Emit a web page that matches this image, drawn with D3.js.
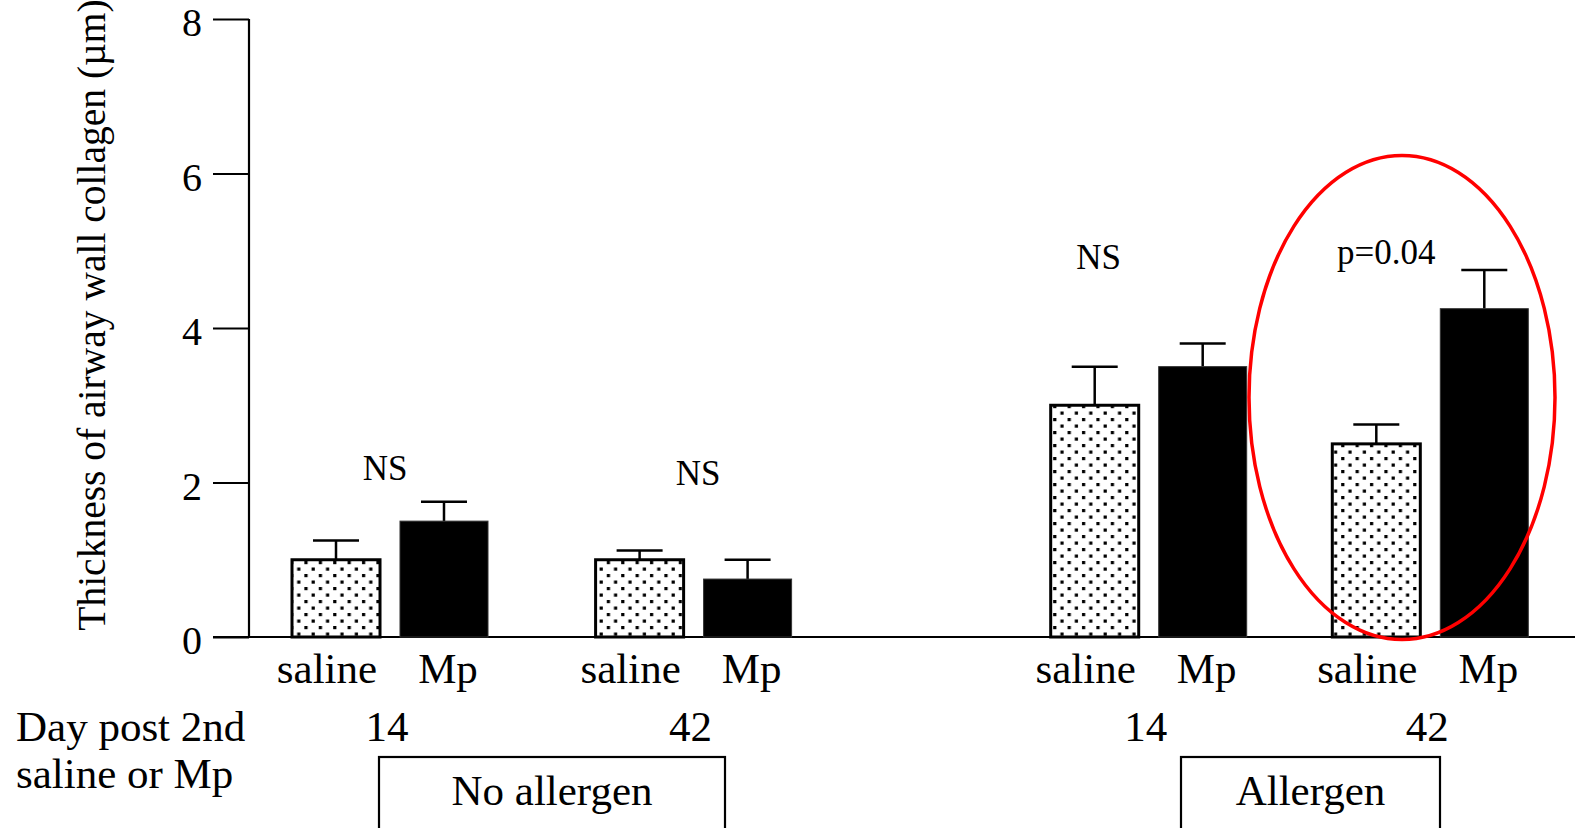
<!DOCTYPE html>
<html>
<head>
<meta charset="utf-8">
<script src="https://cdn.jsdelivr.net/npm/d3@7"></script>
<style>
  html, body { margin: 0; padding: 0; background: #fff; }
  svg { display: block; font-family: "Liberation Serif", "Times New Roman", serif; }
</style>
</head>
<body>
<div id="svg-container"></div>
<script>
// data
const groups = ['g1', 'g2', 'g3', 'g4']
const days = ['14', '42', '14', '42']
const treatments = ['saline', 'Mp']
const salineValues = [1.0, 1.0, 3.0, 2.5]
const salineErrors = [0.25, 0.12, 0.5, 0.25]
const mpValues = [1.5, 0.75, 3.5, 4.25]
const mpErrors = [0.25, 0.25, 0.3, 0.5]
const annotations = ['NS', 'NS', 'NS', 'p=0.04']
const annotationLevels = [2.03, 1.97, 4.77, 4.83]
const yTicks = [0, 2, 4, 6, 8]
const sections = ['No allergen', 'Allergen']

const width = 1575
const height = 828

//layout
const groupCenters = [390, 693.6, 1148.7, 1430.3]
const annotationDx = [-5, 4.5, -50, -44]
const labelDx = { saline: -9, Mp: 4 }
const boxes = [{ x: 379, w: 346 }, { x: 1181, w: 259 }]

const svg = d3.select('#svg-container')
    .append('svg').attr('width', width).attr('height', height)

//pattern voor saline
const defs = svg.append('defs')
const pat = defs.append('pattern')
    .attr('id', 'dots').attr('patternUnits', 'userSpaceOnUse')
    .attr('width', 14.4).attr('height', 13)
pat.append('rect').attr('width', 14.4).attr('height', 13).attr('fill', '#fff')
pat.append('rect').attr('x', 2).attr('y', 2).attr('width', 3.2).attr('height', 3.2).attr('fill', '#000')
pat.append('rect').attr('x', 9.2).attr('y', 8.5).attr('width', 3.2).attr('height', 3.2).attr('fill', '#000')

//schalen
const y = d3.scaleLinear().domain([0, 8]).range([637, 19])
const xGroup = d3.scaleOrdinal().domain(groups).range(groupCenters)
const xBar = d3.scaleBand().domain(treatments).range([-98, 98]).paddingInner(0.185)

const data = []
groups.forEach((g, i) => {
    data.push({ group: g, treatment: 'saline', value: salineValues[i], err: salineErrors[i] })
    data.push({ group: g, treatment: 'Mp', value: mpValues[i], err: mpErrors[i] })
})
const barX = d => xGroup(d.group) + xBar(d.treatment)
const barMid = d => barX(d) + xBar.bandwidth() / 2

//y as
const yAxis = svg.append('g')
    .attr('transform', 'translate(249,0)')
    .call(d3.axisLeft(y).tickValues(yTicks).tickSize(36).tickPadding(11).tickFormat(d3.format('d')))
yAxis.select('.domain').attr('stroke', '#000').attr('stroke-width', 2.2)
    .attr('d', `M0,${y(8)}V${y(0)}`)
yAxis.selectAll('.tick line').attr('stroke', '#000').attr('stroke-width', 2.2)
yAxis.selectAll('.tick text').attr('font-size', 40).attr('fill', '#000').attr('dy', '0.42em')
    .attr('font-family', '"Liberation Serif", serif')

//x as lijn
svg.append('line')
    .attr('x1', 213).attr('x2', width)
    .attr('y1', y(0)).attr('y2', y(0))
    .attr('stroke', '#000').attr('stroke-width', 2.2)

svg.append('text')
    .attr('transform', `translate(105, 315) rotate(-90)`)
    .attr('text-anchor', 'middle')
    .attr('font-size', 39.5)
    .text('Thickness of airway wall collagen (µm)')

//error bars
const eb = svg.append('g').attr('stroke', '#000').attr('stroke-width', 2.5)
eb.selectAll('line.v').data(data).enter().append('line')
    .attr('x1', barMid).attr('x2', barMid)
    .attr('y1', d => y(d.value)).attr('y2', d => y(d.value + d.err))
eb.selectAll('line.c').data(data).enter().append('line')
    .attr('x1', d => barMid(d) - 23)
    .attr('x2', d => barMid(d) + 23)
    .attr('y1', d => y(d.value + d.err)).attr('y2', d => y(d.value + d.err))

//bars
svg.selectAll('rect.bar').data(data).enter().append('rect')
    .attr('class', 'bar')
    .attr('x', d => barX(d))
    .attr('y', d => y(d.value))
    .attr('width', xBar.bandwidth())
    .attr('height', d => y(0) - y(d.value))
    .attr('fill', d => d.treatment === 'saline' ? 'url(#dots)' : '#000')
    .attr('stroke', d => d.treatment === 'saline' ? '#000' : '#333')
    .attr('stroke-width', d => d.treatment === 'saline' ? 3 : 1)

//labels onder bars
svg.selectAll('text.tr').data(data).enter().append('text')
    .attr('x', d => barMid(d) + labelDx[d.treatment])
    .attr('y', 683)
    .attr('text-anchor', 'middle')
    .attr('font-size', 43)
    .text(d => d.treatment)

svg.selectAll('text.day').data(groups).enter().append('text')
    .attr('x', d => xGroup(d) - 3)
    .attr('y', 741)
    .attr('text-anchor', 'middle')
    .attr('font-size', 43)
    .text((d, i) => days[i])

svg.append('text').attr('x', 16).attr('y', 741).attr('font-size', 43).text('Day post 2nd')
svg.append('text').attr('x', 16).attr('y', 788).attr('font-size', 43).text('saline or Mp')

//annotaties
svg.selectAll('text.ann').data(groups).enter().append('text')
    .attr('x', (d, i) => xGroup(d) + annotationDx[i])
    .attr('y', (d, i) => y(annotationLevels[i]))
    .attr('text-anchor', 'middle')
    .attr('font-size', 35)
    .text((d, i) => annotations[i])

//sectie boxen
const bg = svg.selectAll('g.box').data(sections).enter().append('g')
bg.append('rect')
    .attr('x', (d, i) => boxes[i].x).attr('y', 757)
    .attr('width', (d, i) => boxes[i].w).attr('height', 100)
    .attr('fill', 'none').attr('stroke', '#000').attr('stroke-width', 2.2)
bg.append('text')
    .attr('x', (d, i) => boxes[i].x + boxes[i].w / 2)
    .attr('y', 805)
    .attr('text-anchor', 'middle')
    .attr('font-size', 43)
    .text(d => d)

//rode ellips
svg.append('ellipse')
    .attr('cx', 1402).attr('cy', 397.5).attr('rx', 153).attr('ry', 242)
    .attr('fill', 'none').attr('stroke', '#f00').attr('stroke-width', 3.5)
</script>
</body>
</html>
